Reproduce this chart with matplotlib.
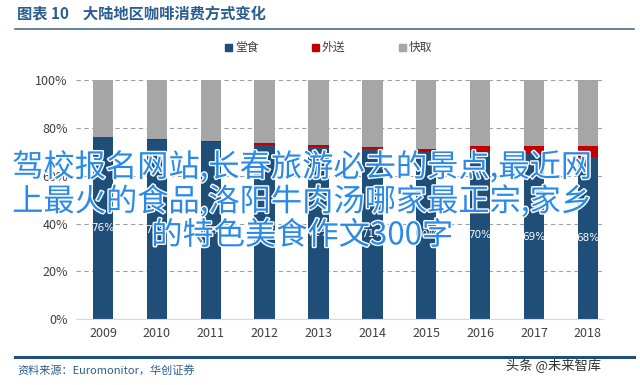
import matplotlib
matplotlib.use("Agg")
import matplotlib.pyplot as plt
import matplotlib.patheffects as pe
from matplotlib.lines import Line2D
from matplotlib.patches import Rectangle
import numpy as np

plt.rcParams['font.family'] = ['Noto Sans CJK SC', 'DejaVu Sans']

years = ['2009', '2010', '2011', '2012', '2013', '2014', '2015', '2016', '2017', '2018']
dine_in = [76, 75, 74, 73, 72, 71, 70, 70, 69, 68]
delivery = [0.3, 0.3, 0.4, 0.5, 0.8, 1.0, 1.0, 2.4, 3.5, 4.5]
pickup = [100 - a - b for a, b in zip(dine_in, delivery)]
labels = ['76%', '75%', '74%', '73%', '72%', '71%', '70%', '70%', '69%', '68%']

c_blue = '#1f4e79'
c_red = '#c00000'
c_gray = '#a6a6a6'

fig = plt.figure(figsize=(6.4, 3.85), dpi=100)
ax = fig.add_axes([0.119, 0.171, 0.823, 0.621])

x = np.arange(len(years))
w = 0.38
ax.bar(x, dine_in, w, color=c_blue, zorder=2)
ax.bar(x, delivery, w, bottom=dine_in, color=c_red, zorder=2)
ax.bar(x, pickup, w, bottom=np.array(dine_in) + np.array(delivery), color=c_gray, zorder=2)

for i, v in enumerate(dine_in):
    ax.text(x[i], v / 2, labels[i], ha='center', va='center', color='white', fontsize=7.5,
            family=['DejaVu Sans'], zorder=3)

ax.set_ylim(0, 100)
ax.set_xlim(-0.5, 9.28)
ax.set_yticks([0, 20, 40, 60, 80, 100])
ax.set_yticklabels(['0%', '20%', '40%', '60%', '80%', '100%'], fontsize=9, color='#404040')
ax.set_xticks(x)
ax.set_xticklabels(years, fontsize=9, color='#404040')
ax.tick_params(length=0, pad=6)
ax.yaxis.grid(True, linestyle=(0, (4, 3)), color='#a0a0a0', linewidth=0.8, zorder=0)
for s in ['top', 'right', 'left']:
    ax.spines[s].set_visible(False)
ax.spines['bottom'].set_color('#d9d9d9')

# 标题与分隔线
fig.text(0.027, 0.962, '图表 10    大陆地区咖啡消费方式变化', fontsize=11, fontweight='bold',
         color='#2a5d8f', va='center')
fig.add_artist(Line2D([0.023, 0.99], [0.925, 0.925], color='#4a6e8a', linewidth=1.2))
fig.add_artist(Line2D([0.023, 0.99], [0.073, 0.073], color='#1f4e79', linewidth=2.2))

# 图例
leg_items = [(c_blue, '堂食', 0.352), (c_red, '外送', 0.487), (c_gray, '快取', 0.624)]
for col, txt, lx in leg_items:
    fig.add_artist(Rectangle((lx, 0.868), 0.011, 0.018, color=col, transform=fig.transFigure))
    fig.text(lx + 0.015, 0.877, txt, fontsize=8.5, color='#404040', va='center')

fig.text(0.027, 0.038, '资料来源：Euromonitor，华创证券', fontsize=8, style='italic',
         color='#2a5d8f', va='center')
fig.text(0.79, 0.05, '头条 @未来智库', fontsize=9.5, color='#333333', va='center')

# 水印文字
overlay = '驾校报名网站,长春旅游必去的景点,最近网\n上最火的食品,洛阳牛肉汤哪家最正宗,家乡\n的特色美食作文300字'
fig.text(0.472, 0.478, overlay, fontsize=22.5, color='#2b8ae8', ha='center', va='center',
         multialignment='center', linespacing=1.06,
         path_effects=[pe.withStroke(linewidth=2, foreground='white')])

fig.savefig('out.png', dpi=100)
